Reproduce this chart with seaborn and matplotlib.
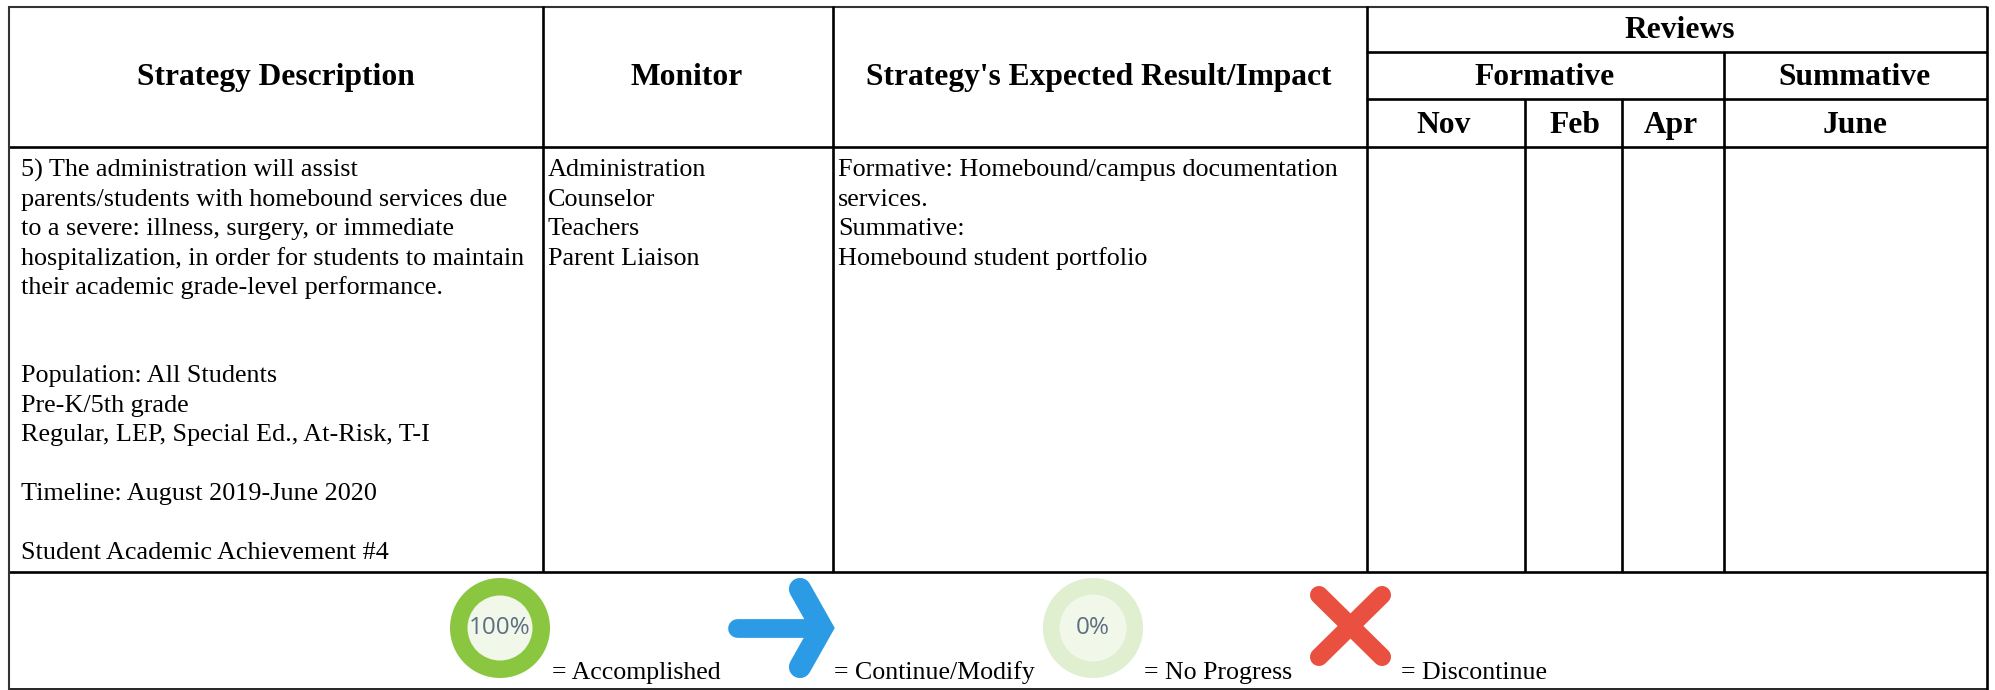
import matplotlib
matplotlib.use("Agg")
import matplotlib.pyplot as plt
from matplotlib.patches import Ellipse
import seaborn as sns

# ---- content ----
main_headers = ["Strategy Description", "Monitor", "Strategy's Expected Result/Impact"]
group_headers = ["Formative", "Summative"]
top_header = "Reviews"
month_headers = ["Nov", "Feb", "Apr", "June"]
description = {
    0: "5) The administration will assist",
    1: "parents/students with homebound services due",
    2: "to a severe: illness, surgery, or immediate",
    3: "hospitalization, in order for students to maintain",
    4: "their academic grade-level performance.",
    7: "Population: All Students",
    8: "Pre-K/5th grade",
    9: "Regular, LEP, Special Ed., At-Risk, T-I",
    11: "Timeline: August 2019-June 2020",
    13: "Student Academic Achievement #4",
}
monitors = ["Administration", "Counselor", "Teachers", "Parent Liaison"]
impact = ["Formative: Homebound/campus documentation", "services.", "Summative:", "Homebound student portfolio"]
legend_labels = ["= Accomplished", "= Continue/Modify", "= No Progress", "= Discontinue"]

sns.set_theme(style="white")
plt.rcParams["font.family"] = ["Liberation Serif", "DejaVu Serif"]

fig = plt.figure(figsize=(19.95, 6.9), dpi=100)
ax = fig.add_axes([0, 0, 1, 1])
ax.set_xlim(0, 1995)
ax.set_ylim(690, 0)
ax.axis("off")

LW = 1.9
INK = "#000000"
R = 1987
# outer + row rules
ax.hlines(6.5, 8, R, color="#333333", lw=1.5)
ax.hlines(147, 8, R, color=INK, lw=LW)
ax.hlines(572, 8, R, color=INK, lw=LW)
ax.hlines(689, 8, R, color=INK, lw=1.2)
ax.hlines(52, 1366, R, color=INK, lw=LW)
ax.hlines(99, 1366, R, color=INK, lw=LW)
ax.vlines(9, 6, 690, color="#333333", lw=1.5)
ax.vlines([543, 833, 1367], 6, 572, color=INK, lw=LW)
ax.vlines(1724, 52, 572, color=INK, lw=LW)
ax.vlines([1525, 1622], 99, 572, color=INK, lw=LW)
ax.vlines(R, 6, 690, color=INK, lw=LW)

HS, BS = 22.7, 18.85
kw = dict(ha="center", va="baseline", fontsize=HS, fontweight="bold", color="black")
for x, t in zip([276, 687, 1099], main_headers):
    ax.text(x, 85, t, **kw)
ax.text(1680, 38, top_header, **kw)
for x, t in zip([1545, 1855], group_headers):
    ax.text(x, 85, t, **kw)
for x, t in zip([1444, 1575, 1671, 1855], month_headers):
    ax.text(x, 133, t, **kw)

def line_y(k):
    return 176.3 + 29.45 * k

bk = dict(ha="left", va="baseline", fontsize=BS, color="black")
for k, t in description.items():
    ax.text(21, line_y(k), t, **bk)
for k, t in enumerate(monitors):
    ax.text(548, line_y(k), t, **bk)
for k, t in enumerate(impact):
    ax.text(838, line_y(k), t, **bk)

lk = dict(bk, fontsize=18.6)
for x, t in zip([552, 834, 1144, 1401], legend_labels):
    ax.text(x, 679, t, **lk)

# icons
def ring(cx, cy, outer, inner_col, ring_col, label):
    ax.add_patch(Ellipse((cx, cy), 100, 100, fc=ring_col, ec="none"))
    ax.add_patch(Ellipse((cx, cy), outer, outer, fc=inner_col, ec="none"))
    ax.text(cx, cy, label, ha="center", va="center", fontsize=17.5,
            family="Open Sans", color="#5E6E80")

ring(500, 628, 65, "#F1F8EA", "#8AC640", "100%")
ring(1093, 628, 67, "#F1F8EA", "#DFEFD0", "0%")

blue = "#2B9BE6"
ax.plot([737, 822], [628, 628], color=blue, lw=13.5, solid_capstyle="round")
ax.plot([800, 822, 800], [589, 628, 667], color=blue, lw=16,
        solid_capstyle="round", solid_joinstyle="miter")

red = "#E95040"
ax.plot([1319, 1382], [595, 657], color=red, lw=13, solid_capstyle="round")
ax.plot([1382, 1319], [595, 657], color=red, lw=13, solid_capstyle="round")

fig.savefig("out.png", dpi=100, facecolor="white")
